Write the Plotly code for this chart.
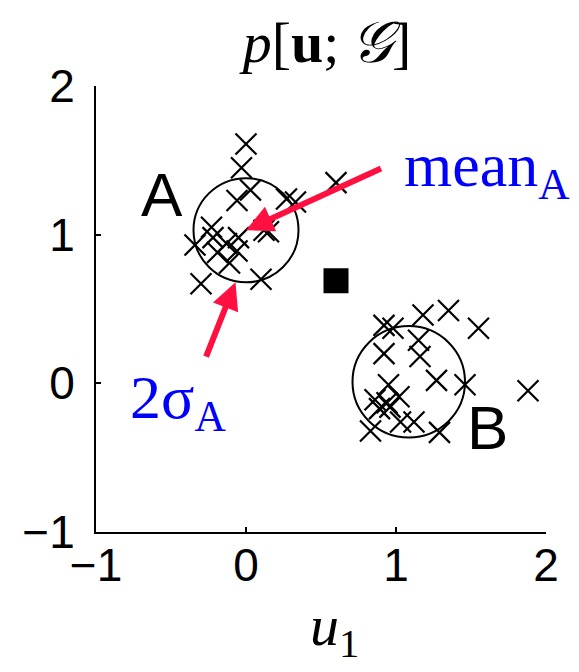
import plotly.graph_objects as go

# Samples drawn from the two clusters
cluster_a_x = [0.00, -0.03, 0.03, -0.06, 0.27, 0.33, 0.60, -0.23, 0.12, 0.15,
               -0.34, -0.05, -0.13, -0.19, -0.06, -0.11, -0.30, 0.10, -0.22]
cluster_a_y = [1.61, 1.45, 1.30, 1.23, 1.24, 1.22, 1.35, 1.05, 1.03, 1.02,
               0.93, 0.98, 0.94, 0.88, 0.89, 0.81, 0.67, 0.70, 0.98]

cluster_b_x = [1.35, 1.18, 1.55, 0.92, 0.98, 1.15, 0.92, 1.16, 1.27, 1.46, 1.88,
               0.95, 0.86, 0.94, 1.02, 0.89, 0.96, 0.83, 1.03, 1.12, 1.29]
cluster_b_y = [0.49, 0.46, 0.37, 0.39, 0.37, 0.29, 0.20, 0.18, 0.02, -0.01, -0.05,
               -0.01, -0.11, -0.13, -0.09, -0.17, -0.16, -0.32, -0.26, -0.26, -0.33]

# Gaussian means and 2-sigma radii
mean_a = (0.00, 1.03)
mean_b = (1.085, 0.01)
two_sigma_a = 0.35
two_sigma_b = 0.375

# Extra filled square marker
square_pt = (0.60, 0.69)

tick_vals = [-1, 0, 1, 2]
tick_text = ["\u22121", "0", "1", "2"]

SANS = "Liberation Sans, Arial, Helvetica, sans-serif"
SERIF = "Liberation Serif, Times New Roman, serif"
RED = "#ff1040"
BLUE = "#0000ff"

fig = go.Figure()

cross = dict(symbol="x-thin", size=21, color="black", line=dict(color="black", width=2.2))
fig.add_trace(go.Scatter(x=cluster_a_x, y=cluster_a_y, mode="markers", marker=cross,
                         showlegend=False, hoverinfo="skip"))
fig.add_trace(go.Scatter(x=cluster_b_x, y=cluster_b_y, mode="markers", marker=cross,
                         showlegend=False, hoverinfo="skip"))
fig.add_trace(go.Scatter(x=[square_pt[0]], y=[square_pt[1]], mode="markers",
                         marker=dict(symbol="square", size=25, color="black"),
                         showlegend=False, hoverinfo="skip"))

for (mx, my), r in ((mean_a, two_sigma_a), (mean_b, two_sigma_b)):
    fig.add_shape(type="circle", xref="x", yref="y",
                  x0=mx - r, x1=mx + r, y0=my - r, y1=my + r,
                  line=dict(color="black", width=2))

# Cluster labels
fig.add_annotation(x=-0.56, y=1.27, text="A", showarrow=False,
                   font=dict(family=SANS, size=62, color="black"))
fig.add_annotation(x=1.61, y=-0.30, text="B", showarrow=False,
                   font=dict(family=SANS, size=62, color="black"))

# Arrows
fig.add_annotation(x=mean_a[0], y=mean_a[1], ax=0.91, ay=1.45,
                   xref="x", yref="y", axref="x", ayref="y",
                   showarrow=True, arrowhead=2, arrowsize=0.9, arrowwidth=6,
                   arrowcolor=RED, text="")
fig.add_annotation(x=-0.07, y=0.68, ax=-0.27, ay=0.17,
                   xref="x", yref="y", axref="x", ayref="y",
                   showarrow=True, arrowhead=2, arrowsize=0.9, arrowwidth=6,
                   arrowcolor=RED, text="")

# Arrow captions
fig.add_annotation(x=1.04, y=1.44, xanchor="left", yanchor="middle",
                   text="mean<sub>A</sub>", showarrow=False,
                   font=dict(family=SERIF, size=62, color=BLUE))
fig.add_annotation(x=-0.79, y=-0.12, xanchor="left", yanchor="middle",
                   text="2\u03c3<sub>A</sub>", showarrow=False,
                   font=dict(family=SERIF, size=62, color=BLUE))

# Axis label, placed below the plot area
fig.add_annotation(x=0.529, y=-0.306, xref="paper", yref="paper",
                   text="<i>u</i><sub>1</sub>", showarrow=False,
                   xanchor="center", yanchor="bottom",
                   font=dict(family=SERIF, size=58, color="black"))

axis_common = dict(
    range=[-1, 2], tickvals=tick_vals, ticktext=tick_text,
    showgrid=False, zeroline=False, showline=True, linecolor="black", linewidth=2,
    ticks="inside", ticklen=5, tickwidth=2, tickcolor="black",
    tickfont=dict(family=SANS, size=46, color="black"),
)

fig.update_layout(
    width=579, height=672,
    margin=dict(l=96, r=33, t=86, b=140),
    paper_bgcolor="white", plot_bgcolor="white",
    title=dict(text="<i>p</i>[<b>u</b>;\u2009<i>\U0001D4A2</i>]", x=327 / 579, xanchor="center",
               y=1 - 42 / 672, yanchor="middle", yref="container",
               font=dict(family=SERIF, size=58, color="black")),
    xaxis=dict(**axis_common, ticklabelstandoff=-8),
    yaxis=dict(**axis_common, ticklabelstandoff=10),
    showlegend=False,
)

fig.write_html("out.html")
